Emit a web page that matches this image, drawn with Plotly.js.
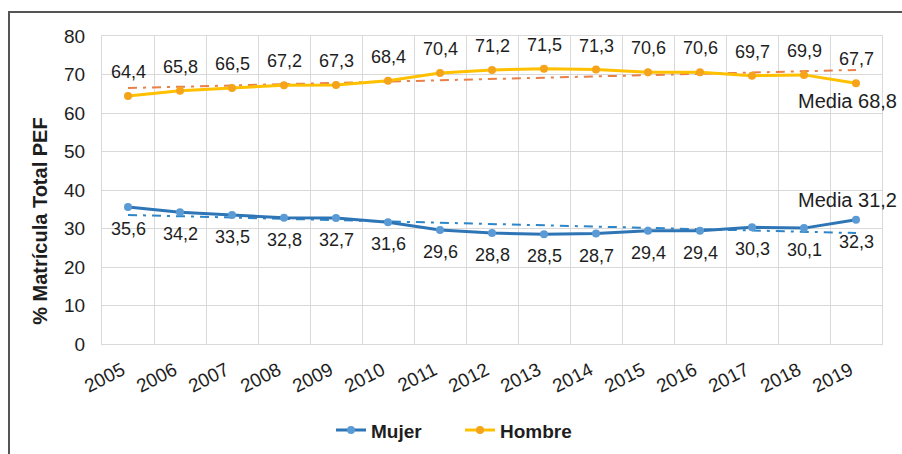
<!DOCTYPE html>
<html>
<head>
<meta charset="utf-8">
<script src="https://cdn.plot.ly/plotly-3.0.1.min.js"></script>
<style>
  html, body { margin: 0; padding: 0; background: #fff; }
  #wrap { position: relative; width: 902px; height: 454px; overflow: hidden; }
  #frame { position: absolute; left: 8px; top: 11px; width: 1000px; height: 600px;
           border-left: 2px solid #555; border-top: 2px solid #555; box-sizing: border-box; }
  #chart { position: absolute; left: 0; top: 0; width: 902px; height: 454px; }
</style>
</head>
<body>
<div id="wrap">
  <div id="chart"></div>
  <div id="frame"></div>
</div>
<script>
const years = [2005, 2006, 2007, 2008, 2009, 2010, 2011, 2012, 2013, 2014, 2015, 2016, 2017, 2018, 2019];
const mujer = [35.6, 34.2, 33.5, 32.8, 32.7, 31.6, 29.6, 28.8, 28.5, 28.7, 29.4, 29.4, 30.3, 30.1, 32.3];
const hombre = [64.4, 65.8, 66.5, 67.2, 67.3, 68.4, 70.4, 71.2, 71.5, 71.3, 70.6, 70.6, 69.7, 69.9, 67.7];
const mediaLabels = ["Media 68,8", "Media 31,2"];
const seriesNames = ["Mujer", "Hombre"];
const yTitle = "% Matrícula Total PEF";

function linfit(xs, ys) {
  const n = xs.length;
  const mx = xs.reduce((a, b) => a + b, 0) / n;
  const my = ys.reduce((a, b) => a + b, 0) / n;
  let sxy = 0, sxx = 0;
  for (let i = 0; i < n; i++) { sxy += (xs[i] - mx) * (ys[i] - my); sxx += (xs[i] - mx) ** 2; }
  const b = sxy / sxx;
  return xs.map(x => my + b * (x - mx));
}
const fmt = v => v.toFixed(1).replace('.', ',');

const FONT = "Liberation Sans, Arial, sans-serif";
const TXT = "#1e1e1e";
const blue = "#2E75B6", blueMk = "#5B9BD5";
const gold = "#FFC000", goldMk = "#F5A31A";

const traces = [
  { x: years, y: linfit(years, mujer), mode: "lines", showlegend: false, hoverinfo: "skip",
    line: { color: "#2E86C8", width: 2, dash: "9px,6px,3px,6px" } },
  { x: years, y: linfit(years, hombre), mode: "lines", showlegend: false, hoverinfo: "skip",
    line: { color: "#E8804A", width: 2, dash: "9px,6px,3px,6px" } },
  { x: years, y: mujer, name: "<b>" + seriesNames[0] + "</b>", mode: "lines+markers",
    line: { color: blue, width: 3 }, marker: { color: blueMk, size: 8 } },
  { x: years, y: hombre, name: "<b>" + seriesNames[1] + "</b>", mode: "lines+markers",
    line: { color: gold, width: 3 }, marker: { color: goldMk, size: 8 } }
];

const annotations = [];
years.forEach((yr, i) => {
  annotations.push({ x: yr, y: hombre[i], text: fmt(hombre[i]), showarrow: false, yshift: 24,
    font: { family: FONT, size: 18, color: TXT } });
  annotations.push({ x: yr, y: mujer[i], text: fmt(mujer[i]), showarrow: false, yshift: -22,
    font: { family: FONT, size: 18, color: TXT } });
});
annotations.push({ xref: "paper", x: 1.0215, xanchor: "right", y: 63.1, text: mediaLabels[0], showarrow: false,
  font: { family: FONT, size: 20, color: TXT } });
annotations.push({ xref: "paper", x: 1.0215, xanchor: "right", y: 37.4, text: mediaLabels[1], showarrow: false,
  font: { family: FONT, size: 20, color: TXT } });
annotations.push({ xref: "paper", yref: "paper", x: -0.0795, y: 0.4, xanchor: "center", yanchor: "middle",
  textangle: -90, text: "<b>" + yTitle + "</b>", showarrow: false,
  font: { family: FONT, size: 20, color: TXT } });

const minorVals = years.slice(0, -1).map(y => y + 0.5);

const layout = {
  width: 902, height: 454,
  margin: { l: 102, r: 20, t: 36, b: 110, autoexpand: false },
  paper_bgcolor: "rgba(0,0,0,0)", plot_bgcolor: "#fff",
  font: { family: FONT, color: TXT },
  xaxis: {
    automargin: false,
    range: [2004.5, 2019.5], tickmode: "array", tickvals: years, ticktext: years.map(String),
    tickangle: -27, showgrid: false, zeroline: false, ticks: "",
    ticklabelstandoff: 7, ticklabelshift: -6,
    showline: true, mirror: true, linecolor: "#d9d9d9", linewidth: 1,
    tickfont: { family: FONT, size: 19, color: TXT },
    minor: { tickmode: "array", tickvals: minorVals, showgrid: true, gridcolor: "#d9d9d9", gridwidth: 1, ticks: "" }
  },
  yaxis: {
    automargin: false,
    range: [0, 80], dtick: 10, tick0: 0, showgrid: true, gridcolor: "#d9d9d9", zeroline: false,
    showline: true, mirror: true, linecolor: "#d9d9d9", ticks: "", ticklabelstandoff: 12,
    tickfont: { family: FONT, size: 19, color: TXT }
  },
  legend: { orientation: "h", x: 0.459, xanchor: "center", y: -0.28, yanchor: "middle",
    entrywidth: 84, entrywidthmode: "pixels",
    font: { family: FONT, size: 19, color: TXT }, traceorder: "normal" },
  annotations: annotations,
  showlegend: true
};

Plotly.newPlot("chart", traces, layout, { displayModeBar: false, staticPlot: true });
</script>
</body>
</html>
